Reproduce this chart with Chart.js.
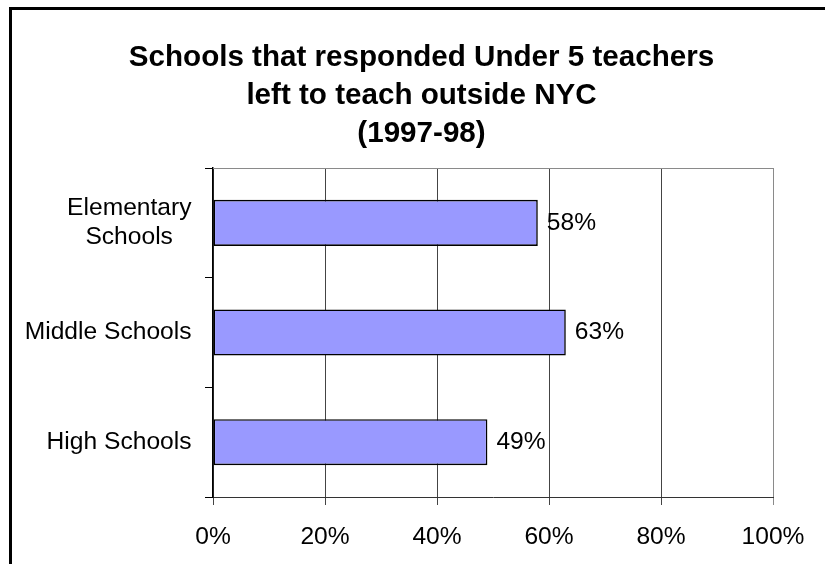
<!DOCTYPE html>
<html>
<head>
<meta charset="utf-8">
<title>Schools that responded Under 5 teachers left to teach outside NYC (1997-98)</title>
<script src="https://cdn.jsdelivr.net/npm/chart.js@4/dist/chart.umd.min.js"></script>
<style>
  html, body { margin: 0; padding: 0; background: #fff; overflow: hidden; width: 825px; height: 564px; }
  #wrap { position: absolute; left: 9px; top: 7px; width: 825px; height: 557px; }
  canvas { display: block; }
</style>
</head>
<body>
<div id="wrap"><canvas id="chart" width="825" height="557"></canvas></div>
<script>
// Chart content
const titleLines = ['Schools that responded Under 5 teachers', 'left to teach outside NYC', '(1997-98)'];
// the second line of the first label carries a little trailing space so it sits centred under "Elementary"
const categories = [['Elementary', 'Schools\u2007\u2009'], 'Middle Schools', 'High Schools'];
const percentResponded = [58, 63, 49];
const xTickValues = [0, 20, 40, 60, 80, 100];

const FONT = "'Liberation Sans', Arial, Helvetica, sans-serif";

// Frame line along the top and left edge of the chart box
const framePlugin = {
  id: 'frame',
  beforeDraw(chart) {
    const ctx = chart.ctx;
    ctx.save();
    ctx.fillStyle = '#000';
    ctx.fillRect(0, 0, chart.width, 3);
    ctx.fillRect(0, 0, 3, chart.height);
    ctx.restore();
  }
};

// Thin grey line closing the plot area at the top
const plotTopPlugin = {
  id: 'plotTop',
  beforeDatasetsDraw(chart) {
    const { ctx, chartArea } = chart;
    ctx.save();
    ctx.strokeStyle = '#8a8a8a';
    ctx.lineWidth = 1;
    ctx.beginPath();
    ctx.moveTo(chartArea.left, Math.round(chartArea.top) + 0.5);
    ctx.lineTo(chartArea.right, Math.round(chartArea.top) + 0.5);
    ctx.stroke();
    ctx.restore();
  }
};

// Percentage written just past the end of each bar
const valueLabelPlugin = {
  id: 'valueLabels',
  afterDatasetsDraw(chart) {
    const ctx = chart.ctx;
    const meta = chart.getDatasetMeta(0);
    const values = chart.data.datasets[0].data;
    ctx.save();
    ctx.font = '24.6px ' + FONT;
    ctx.fillStyle = '#000';
    ctx.textAlign = 'left';
    ctx.textBaseline = 'middle';
    meta.data.forEach((bar, i) => {
      ctx.fillText(values[i] + '%', bar.x + 9, bar.y);
    });
    ctx.restore();
  }
};

new Chart(document.getElementById('chart'), {
  type: 'bar',
  data: {
    labels: categories,
    datasets: [{
      data: percentResponded,
      backgroundColor: '#9999ff',
      borderColor: '#000',
      borderWidth: 1.6,
      borderSkipped: false,
      barPercentage: 0.42,
      categoryPercentage: 1.0
    }]
  },
  options: {
    indexAxis: 'y',
    responsive: false,
    animation: false,
    devicePixelRatio: 1,
    layout: { padding: 0 },
    plugins: {
      legend: { display: false },
      tooltip: { enabled: false },
      title: {
        display: true,
        text: titleLines,
        color: '#000',
        font: { family: FONT, size: 29.6, weight: 'bold', lineHeight: 1.284 },
        padding: { top: 32, bottom: 15 }
      }
    },
    scales: {
      x: {
        min: 0,
        max: 100,
        afterBuildTicks(scale) {
          scale.ticks = xTickValues.map(v => ({ value: v }));
        },
        afterFit(scale) { scale.height = 67; },
        ticks: {
          color: '#000',
          font: { family: FONT, size: 24.6 },
          padding: 17,
          maxRotation: 0,
          callback: v => v + '%'
        },
        grid: {
          color: ctx => (ctx.index === xTickValues.length - 1 ? '#8a8a8a' : '#444'),
          lineWidth: 1,
          tickLength: 8,
          drawTicks: true
        },
        border: { color: '#333', width: 1 }
      },
      y: {
        afterFit(scale) { scale.width = 204; },
        ticks: {
          color: '#000',
          font: { family: FONT, size: 24.6, lineHeight: 1.18 },
          padding: 13.5
        },
        grid: {
          offset: true,
          drawOnChartArea: false,
          drawTicks: true,
          tickLength: 8,
          color: '#000'
        },
        border: { color: '#000', width: 1.5 }
      },
      // empty margin on the right of the plot, so the title stays centred on the full width
      rightMargin: {
        type: 'linear',
        position: 'right',
        display: true,
        afterFit(scale) { scale.width = 61; },
        ticks: { display: false },
        grid: { display: false },
        border: { display: false }
      }
    }
  },
  plugins: [framePlugin, plotTopPlugin, valueLabelPlugin]
});
</script>
</body>
</html>
